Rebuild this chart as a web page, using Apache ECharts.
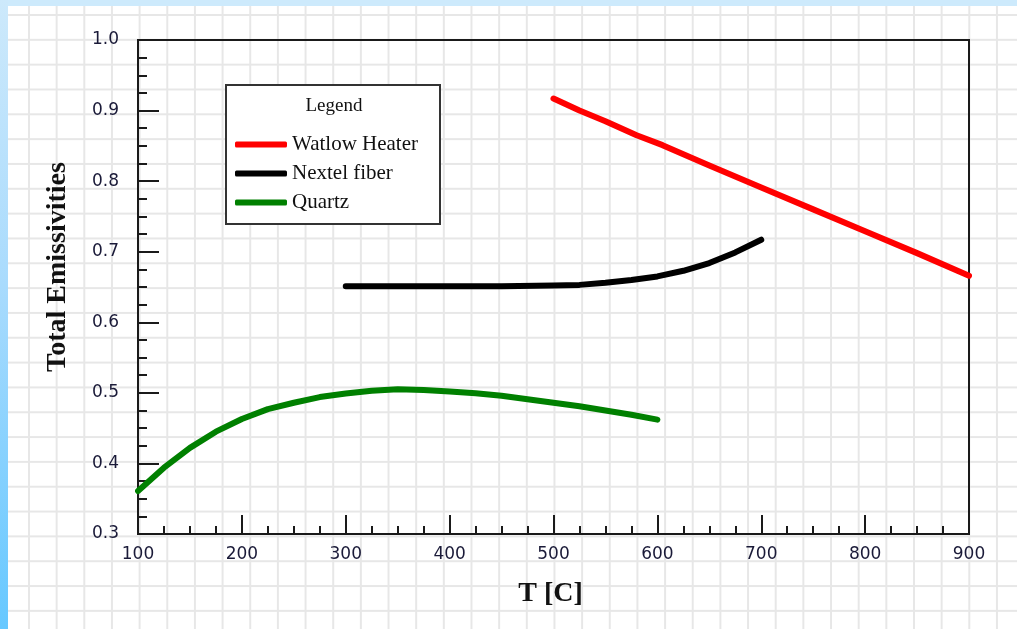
<!DOCTYPE html>
<html>
<head>
<meta charset="utf-8">
<script src="https://cdn.jsdelivr.net/npm/echarts@6/dist/echarts.min.js"></script>
<style>
  html, body { margin: 0; padding: 0; background: #fff; }
  #wrap {
    position: relative; width: 1017px; height: 629px; overflow: hidden;
    background-color: #fff;
    background-image:
      linear-gradient(to right, #e7e7e7 2px, transparent 2px),
      linear-gradient(to bottom, #e7e7e7 2px, transparent 2px);
    background-size: 27.66px 24.83px;
    background-position: 28px 14px;
  }
  #topband { position: absolute; left: 0; top: 0; width: 1017px; height: 6px; background: #cdeafc; }
  #leftband { position: absolute; left: 0; top: 0; width: 8px; height: 629px;
    background: linear-gradient(to bottom, #cde9fb 0%, #a9dbfd 45%, #66c8ff 100%); }
  #chart { position: absolute; left: 0; top: 0; width: 1017px; height: 629px; }
</style>
</head>
<body>
<div id="wrap">
  <div id="topband"></div>
  <div id="leftband"></div>
  <div id="chart"></div>
</div>
<script>
// ---- data ----
const seriesNames = ['Watlow Heater', 'Nextel fiber', 'Quartz'];
const seriesColors = ['#ff0000', '#000000', '#008000'];

const watlowT = [500, 525, 550, 580, 605, 650, 700, 750, 800, 850, 900];
const watlowE = [0.917, 0.900, 0.885, 0.865, 0.851, 0.822, 0.791, 0.760, 0.729, 0.698, 0.666];

const nextelT = [300, 350, 400, 450, 500, 525, 550, 575, 600, 625, 650, 675, 700];
const nextelE = [0.651, 0.651, 0.651, 0.651, 0.652, 0.653, 0.656, 0.660, 0.665, 0.673, 0.684, 0.699, 0.717];

const quartzT = [100, 125, 150, 175, 200, 225, 250, 275, 300, 325, 350, 375, 400, 425, 450, 475, 500, 525, 550, 575, 600];
const quartzE = [0.361, 0.394, 0.422, 0.445, 0.463, 0.477, 0.486, 0.494, 0.499, 0.503, 0.505, 0.504, 0.502, 0.4995, 0.496, 0.491, 0.486, 0.481, 0.475, 0.469, 0.462];

const xTitle = 'T [C]';
const yTitle = 'Total Emissivities';
const legendTitle = 'Legend';

const zip = (xs, ys) => xs.map((x, i) => [x, ys[i]]);
const seriesData = [zip(watlowT, watlowE), zip(nextelT, nextelE), zip(quartzT, quartzE)];

const labelFont = { fontFamily: 'DejaVu Sans', fontSize: 17, color: '#1a1a38' };
const axisCol = '#1a1a1a';

const chart = echarts.init(document.getElementById('chart'), null, { renderer: 'canvas' });
chart.setOption({
  backgroundColor: 'transparent',
  animation: false,
  grid: { left: 138, right: 48, top: 40, bottom: 95, show: true, borderColor: axisCol, borderWidth: 2, backgroundColor: 'transparent' },
  xAxis: {
    type: 'value', min: 100, max: 900, interval: 100,
    name: xTitle, nameLocation: 'middle', nameGap: 46,
    nameTextStyle: { fontFamily: 'Liberation Serif', fontWeight: 'bold', fontSize: 28, color: '#111', padding: [0, 6, 0, 0] },
    axisLine: { show: true, lineStyle: { color: axisCol, width: 2 } },
    axisTick: { show: true, inside: true, length: 19, lineStyle: { color: axisCol, width: 2 } },
    minorTick: { show: true, splitNumber: 4, length: 8, lineStyle: { color: axisCol, width: 2 } },
    axisLabel: Object.assign({ margin: 12 }, labelFont),
    splitLine: { show: false }
  },
  yAxis: {
    type: 'value', min: 0.3, max: 1.0, interval: 0.1,
    name: yTitle, nameLocation: 'middle', nameGap: 66, nameRotate: 90,
    nameTextStyle: { fontFamily: 'Liberation Serif', fontWeight: 'bold', fontSize: 28, color: '#111', padding: [0, 0, 0, 40] },
    axisLine: { show: true, lineStyle: { color: axisCol, width: 2 } },
    axisTick: { show: true, inside: true, length: 21, lineStyle: { color: axisCol, width: 2 } },
    minorTick: { show: true, splitNumber: 4, length: 9, lineStyle: { color: axisCol, width: 2 } },
    axisLabel: Object.assign({ margin: 19, formatter: v => v.toFixed(1) }, labelFont),
    splitLine: { show: false }
  },
  legend: {
    data: seriesNames,
    orient: 'vertical', left: 235, top: 134, padding: 0, itemGap: 8,
    itemWidth: 52, itemHeight: 6, icon: 'roundRect', selectedMode: false, z: 10,
    textStyle: { fontFamily: 'Liberation Serif', fontSize: 21, color: '#111' }
  },
  graphic: [
    { type: 'rect', z: 1, shape: { x: 226, y: 85, width: 214, height: 139 },
      style: { fill: '#fff', stroke: '#333', lineWidth: 2 } },
    { type: 'text', z: 2, x: 334, y: 106,
      style: { text: legendTitle, font: '19px "Liberation Serif"', fill: '#111', align: 'center', verticalAlign: 'middle' } }
  ],
  series: seriesNames.map((n, i) => ({
    name: n, type: 'line', data: seriesData[i], showSymbol: false, symbol: 'none',
    color: seriesColors[i],
    lineStyle: { color: seriesColors[i], width: 6, cap: 'round', join: 'round' },
    z: 3
  }))
});
</script>
</body>
</html>
